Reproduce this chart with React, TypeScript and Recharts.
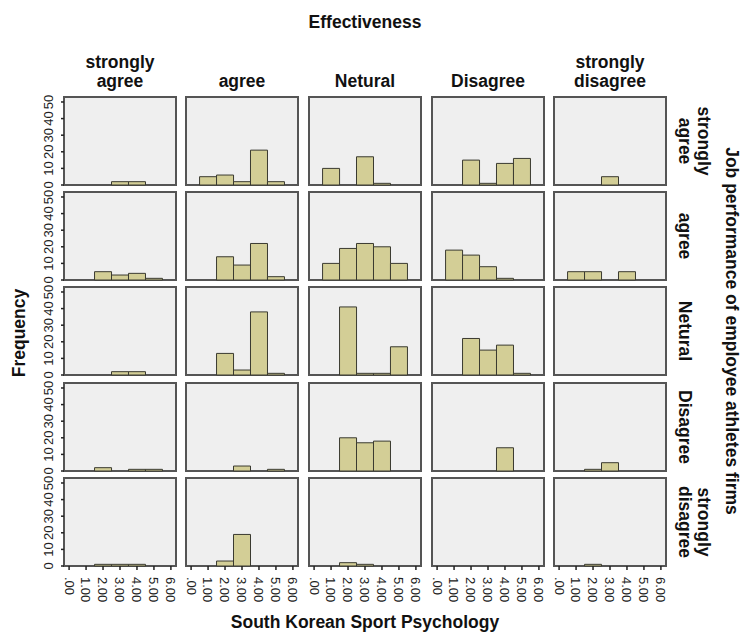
import React from 'react';
import { BarChart, Bar, XAxis, YAxis } from 'recharts';

// column facets (Effectiveness) and row facets (Job performance)
const effectivenessLabels = [['strongly', 'agree'], ['agree'], ['Netural'], ['Disagree'], ['strongly', 'disagree']];
const jobPerformanceLabels = [['strongly', 'agree'], ['agree'], ['Netural'], ['Disagree'], ['strongly', 'disagree']];

// histogram bins of South Korean Sport Psychology
const bins = [1, 2, 3, 4, 5];
const xTicks = [0, 1, 2, 3, 4, 5, 6];
const xTickLabels = ['.00', '1.00', '2.00', '3.00', '4.00', '5.00', '6.00'];
const yTicks = [0, 10, 20, 30, 40, 50];

// frequencies per row, one array of bin counts per Effectiveness column
const jobStronglyAgree = [
  [0, 0, 2, 2, 0],
  [5, 6, 2, 21, 2],
  [10, 0, 17, 1, 0],
  [0, 15, 1, 13, 16],
  [0, 0, 5, 0, 0],
];
const jobAgree = [
  [0, 5, 3, 4, 1],
  [0, 14, 9, 22, 2],
  [10, 19, 22, 20, 10],
  [18, 15, 8, 1, 0],
  [5, 5, 0, 5, 0],
];
const jobNetural = [
  [0, 0, 2, 2, 0],
  [0, 13, 3, 38, 1],
  [0, 41, 1, 1, 17],
  [0, 22, 15, 18, 1],
  [0, 0, 0, 0, 0],
];
const jobDisagree = [
  [0, 2, 0, 1, 1],
  [0, 0, 3, 0, 1],
  [0, 20, 17, 18, 0],
  [0, 0, 0, 14, 0],
  [0, 1, 5, 0, 0],
];
const jobStronglyDisagree = [
  [0, 1, 1, 1, 0],
  [0, 3, 19, 0, 0],
  [0, 2, 1, 0, 0],
  [0, 0, 0, 0, 0],
  [0, 1, 0, 0, 0],
];
const rows = [jobStronglyAgree, jobAgree, jobNetural, jobDisagree, jobStronglyDisagree];

const FONT = '"Liberation Sans", Arial, sans-serif';
const PW = 112;
const PH = 88;
const ML = 30; // room for y ticks (given to the YAxis)
const MR = 6;
const MT = 6;
const MB = 45; // room for x ticks (given to the XAxis)
const LINE = 19;
const colLeft = (i: number) => Math.round(63.5 + i * 122.7);
const rowTop = (j: number) => Math.round(96.7 + j * 95.3);

const XTick = (props: any) => {
  const { x, y, payload } = props;
  return (
    <text
      transform={`translate(${x},${y + 1}) rotate(90)`}
      textAnchor="start"
      dy="0.35em"
      fontSize={13}
      fill="#222"
      fontFamily={FONT}
    >
      {xTickLabels[xTicks.indexOf(payload.value)]}
    </text>
  );
};

const YTick = (props: any) => {
  const { x, y, payload } = props;
  return (
    <text
      transform={`translate(${x - 6},${y}) rotate(-90)`}
      textAnchor="middle"
      fontSize={13}
      fill="#222"
      fontFamily={FONT}
    >
      {payload.value}
    </text>
  );
};

const Panel = ({ counts, row, col }: { counts: number[]; row: number; col: number }) => {
  const left = colLeft(col);
  const top = rowTop(row);
  const data = bins.map((b, i) => ({ bin: b, count: counts[i] }));
  const showX = row === rows.length - 1;
  const showY = col === 0;
  return (
    <>
      <div
        style={{
          position: 'absolute',
          left: left - 1,
          top: top - 1,
          width: PW + 2,
          height: PH + 2,
          boxSizing: 'border-box',
          border: '2px solid #555',
          background: '#efefef',
        }}
      />
      <div style={{ position: 'absolute', left: left - ML, top: top - MT }}>
        <BarChart
          width={PW + ML + MR}
          height={PH + MT + MB}
          data={data}
          margin={{ top: MT, right: MR, bottom: 0, left: 0 }}
          barCategoryGap={0}
          barGap={0}
        >
          <XAxis
            type="number"
            dataKey="bin"
            domain={[-0.3, 6.3]}
            ticks={xTicks}
            interval={0}
            height={MB}
            axisLine={false}
            tickLine={showX ? { stroke: '#222', strokeWidth: 1.5 } : false}
            tickSize={4}
            tickMargin={6}
            tick={showX ? XTick : false}
          />
          <YAxis
            type="number"
            domain={[0, 53]}
            ticks={yTicks}
            interval={0}
            width={ML}
            axisLine={false}
            tickLine={showY ? { stroke: '#222', strokeWidth: 1.5 } : false}
            tickSize={3}
            tickMargin={2}
            tick={showY ? YTick : false}
          />
          <Bar dataKey="count" fill="#d3ce96" stroke="#3a3a30" strokeWidth={1} isAnimationActive={false} />
        </BarChart>
      </div>
    </>
  );
};

export default function App() {
  return (
    <div style={{ position: 'absolute', left: 0, top: 0, width: 744, height: 634, background: '#fff', fontFamily: FONT }}>
      {rows.map((cols, r) => cols.map((counts, c) => <Panel key={`${r}-${c}`} counts={counts} row={r} col={c} />))}
      <svg width={744} height={634} style={{ position: 'absolute', left: 0, top: 0, pointerEvents: 'none' }}>
        <g fontFamily={FONT} fontWeight="bold" fontSize={17.5} fill="#111">
          <text x={365} y={28} textAnchor="middle">Effectiveness</text>
          {effectivenessLabels.map((lines, c) =>
            lines.map((line, k) => (
              <text key={`c${c}${k}`} x={colLeft(c) + PW / 2} y={87 - (lines.length - 1 - k) * LINE} textAnchor="middle">
                {line}
              </text>
            ))
          )}
          {jobPerformanceLabels.map((lines, r) =>
            lines.map((line, k) => (
              <text
                key={`r${r}${k}`}
                transform={`translate(${679 + (lines.length - 1 - k) * LINE},${rowTop(r) + PH / 2}) rotate(90)`}
                textAnchor="middle"
              >
                {line}
              </text>
            ))
          )}
          <text transform="translate(726,331) rotate(90)" textAnchor="middle">
            Job performance of employee athletes firms
          </text>
          <text transform="translate(25,333) rotate(-90)" textAnchor="middle">
            Frequency
          </text>
          <text x={365} y={628} textAnchor="middle">South Korean Sport Psychology</text>
        </g>
      </svg>
    </div>
  );
}
